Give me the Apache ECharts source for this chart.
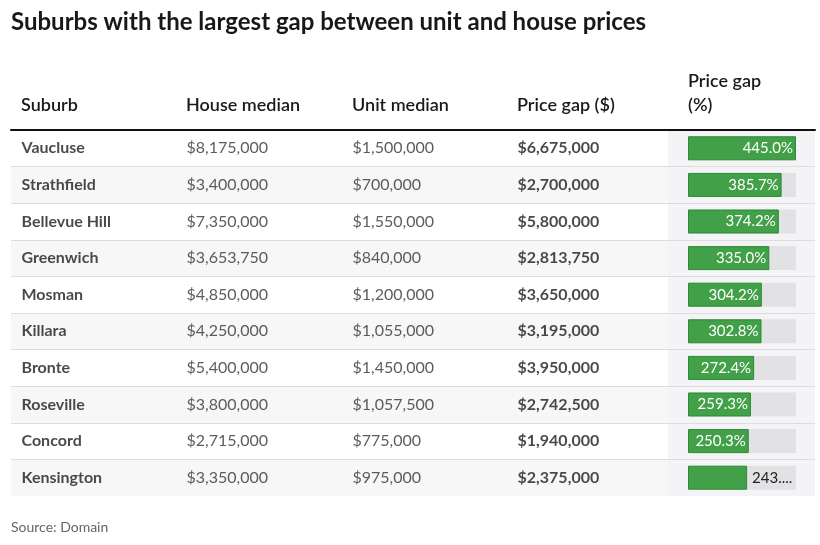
<!DOCTYPE html>
<html><head><meta charset="utf-8">
<script src="https://cdn.jsdelivr.net/npm/echarts@6/dist/echarts.min.js"></script>
<style>html,body{margin:0;padding:0;background:#fff}#c{width:820px;height:545px}</style>
</head><body><div id="c"></div>
<script>
const suburbs = ['Vaucluse','Strathfield','Bellevue Hill','Greenwich','Mosman','Killara','Bronte','Roseville','Concord','Kensington'];
const houseMedian = [8175000,3400000,7350000,3653750,4850000,4250000,5400000,3800000,2715000,3350000];
const unitMedian = [1500000,700000,1550000,840000,1200000,1055000,1450000,1057500,775000,975000];
const priceGap = [6675000,2700000,5800000,2813750,3650000,3195000,3950000,2742500,1940000,2375000];
const gapPct = [445.0,385.7,374.2,335.0,304.2,302.8,272.4,259.3,250.3,243.6];
const pctLabels = ['445.0%','385.7%','374.2%','335.0%','304.2%','302.8%','272.4%','259.3%','250.3%','243....'];
const headers = ['Suburb','House median','Unit median','Price gap ($)','Price gap\n(%)'];
const titleText = 'Suburbs with the largest gap between unit and house prices';
const sourceText = 'Source: Domain';

const FONT = 'Lato, "Open Sans", sans-serif';
const TOP = 130, H = 366;
const money = v => '$' + v.toLocaleString('en-US');

const chart = echarts.init(document.getElementById('c'), null, {renderer:'canvas'});

const grids = [], xAxes = [], yAxes = [], series = [];
function addGrid(g, xa, ya){
  grids.push(Object.assign({top:TOP, height:H, containLabel:false}, g));
  const idx = grids.length-1;
  xAxes.push(Object.assign({type:'value', gridIndex:idx, min:0, max:1, show:false}, xa||{}));
  yAxes.push(Object.assign({type:'category', gridIndex:idx, data:suburbs, inverse:true, show:false}, ya||{}));
  return idx;
}
// row stripes
addGrid({left:11, width:657}, null, {show:true, axisLine:{show:false}, axisTick:{show:false}, axisLabel:{show:false},
  splitArea:{show:true, interval:0, areaStyle:{color:['#ffffff','#f7f7f7']}}});
// bar column background
addGrid({left:668, width:147, show:true, backgroundColor:'#f4f4f6', borderWidth:0});
// row separators (first/last edge hidden) + header rule
const sepColors = suburbs.map((s,i)=> i===0 ? 'rgba(0,0,0,0)' : '#dddddd');
addGrid({left:11, width:804},
  {show:true, position:'top', axisLine:{show:true, lineStyle:{color:'#111', width:2}}, axisTick:{show:false}, axisLabel:{show:false}, splitLine:{show:false}},
  {show:true, axisLine:{show:false}, axisTick:{show:false}, axisLabel:{show:false}, splitLine:{show:true, interval:0, lineStyle:{color:sepColors, width:1}}});

// text columns
const textCols = [
  {left:21, texts:suburbs, bold:true},
  {left:186, texts:houseMedian.map(money), bold:false},
  {left:352, texts:unitMedian.map(money), bold:false},
  {left:517, texts:priceGap.map(money), bold:true}
];
textCols.forEach(col=>{
  const gi = addGrid({left:col.left, width:100});
  series.push({type:'scatter', xAxisIndex:gi, yAxisIndex:gi, silent:true, symbolSize:1,
    itemStyle:{color:'rgba(0,0,0,0)'},
    data: col.texts.map((t,i)=>[0,i]),
    label:{show:true, position:'right', distance:0, formatter:p=>col.texts[p.dataIndex],
      fontFamily:FONT, fontSize:16, fontWeight:col.bold?'bold':'normal', color:col.bold?'#1a1a1a':'#333'}});
});

// bar column
const gBar = addGrid({left:688, width:108}, {max:445});
series.push({type:'bar', xAxisIndex:gBar, yAxisIndex:gBar, silent:true, barWidth:24,
  showBackground:true, backgroundStyle:{color:'#e2e2e4'},
  itemStyle:{color:'#41a048', borderColor:'#2a8a36', borderWidth:1},
  label:{show:true, position:'insideRight', distance:3, formatter:p=>pctLabels[p.dataIndex],
    fontFamily:FONT, fontSize:15, color:'#ffffff'},
  data: gapPct.map((v,i)=> pctLabels[i].indexOf('%')<0 ? {value:v, label:{position:'right', distance:5, color:'#222'}} : v)
});

const headerLefts = [21,186,352,517,688];
const graphics = headers.map((h,i)=>({type:'text', left:headerLefts[i], bottom:545-117, silent:true,
  style:{text:h, fontFamily:FONT, fontSize:18, fontWeight:600, fill:'#1a1a1a', lineHeight:24}}));

chart.setOption({
  animation:false,
  backgroundColor:'#fff',
  title:[
    {text:titleText, left:11, top:10, padding:0, textStyle:{fontFamily:FONT, fontSize:24, fontWeight:'bold', color:'#181818'}},
    {text:sourceText, left:11, top:520, padding:0, textStyle:{fontFamily:FONT, fontSize:14, fontWeight:'normal', color:'#666'}}
  ],
  grid:grids, xAxis:xAxes, yAxis:yAxes, series:series, graphic:graphics
});
</script></body></html>
